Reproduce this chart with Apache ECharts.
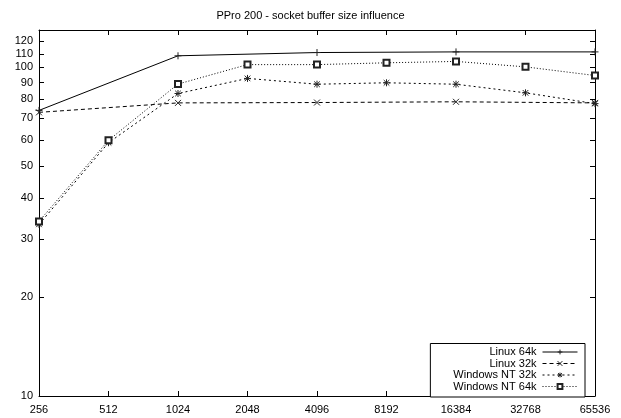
<!DOCTYPE html>
<html>
<head>
    <meta charset="utf-8">
    <script src="https://cdn.jsdelivr.net/npm/echarts@6/dist/echarts.min.js"></script>
    <style type="text/css">
        html, body { width: 100%; height: 100%; margin: 0; background: #fff; }
        #chart { width: 621px; height: 418px; }
    </style>
</head>
<body>
<div id="chart"></div>
<script type="text/javascript">
    // buffer sizes (bytes), evenly spaced on a log2 scale
    var sizes = ['256', '512', '1024', '2048', '4096', '8192', '16384', '32768', '65536'];
    var yTicks = [10, 20, 30, 40, 50, 60, 70, 80, 90, 100, 110, 120];

    var linux64 = [74, null, 108.5, null, 111, null, 111.5, null, 111.5];
    var linux32 = [73, null, 78, null, 78.2, null, 78.6, null, 78];
    var nt32 = [33.3, 59, 83.3, 92.6, 88.9, 89.8, 88.9, 83.7, 77.6];
    var nt64 = [34, 60, 89, 102, 102, 103.3, 104.3, 100.4, 94.5];

    var font = 'Liberation Sans, Arial, sans-serif';
    var plusPath = 'path://M0,5L10,5M5,0L5,10';
    var crossPath = 'path://M0,0L10,10M10,0L0,10';
    var starPath = 'path://M0,5L10,5M5,0L5,10M1,1L9,9M9,1L1,9';

    function mkSeries(name, data, symbol, size, dash) {
        return {
            name: name,
            type: 'line',
            data: data,
            connectNulls: true,
            symbol: symbol,
            symbolSize: size,
            showAllSymbol: true,
            lineStyle: { color: '#000', width: 1, type: dash },
            itemStyle: { color: '#222', borderColor: '#222', borderWidth: 1 },
            emphasis: { disabled: true },
            z: 3
        };
    }

    var myChart = echarts.init(document.getElementById('chart'));
    var tickStyle = { inside: true, length: 5, lineStyle: { color: '#000' } };
    myChart.setOption({
        animation: false,
        title: {
            text: 'PPro 200 - socket buffer size influence',
            left: 'center', top: 5,
            textStyle: { fontFamily: font, fontSize: 11, fontWeight: 'normal', color: '#000' }
        },
        legend: {
            orient: 'vertical',
            right: 36, bottom: 21,
            align: 'right',
            itemWidth: 35, itemHeight: 6, itemGap: 0.5,
            padding: [3, 7, 5, 23],
            borderColor: '#000', borderWidth: 1, borderRadius: 0,
            backgroundColor: '#fff',
            lineStyle: { width: 1 },
            itemStyle: { borderWidth: 1 },
            textStyle: { fontFamily: font, fontSize: 11, lineHeight: 10, color: '#000', padding: [0, 1, 0, 0] },
            data: ['Linux 64k', 'Linux 32k', 'Windows NT 32k', 'Windows NT 64k']
        },
        grid: { left: 39, right: 26, top: 30, bottom: 22 },
        xAxis: [{
            type: 'category', data: sizes, boundaryGap: false,
            axisLine: { lineStyle: { color: '#000' } },
            axisTick: tickStyle,
            axisLabel: { color: '#000', fontFamily: font, fontSize: 11, margin: 8 },
            splitLine: { show: false }
        }, {
            type: 'category', data: sizes, boundaryGap: false, position: 'top',
            axisLine: { lineStyle: { color: '#000' } },
            axisTick: tickStyle,
            axisLabel: { show: false }
        }],
        yAxis: [{
            type: 'log', logBase: 10, min: 10, max: 130,
            axisLine: { show: true, lineStyle: { color: '#000' } },
            axisTick: { show: true, inside: true, length: 5, lineStyle: { color: '#000' }, customValues: yTicks },
            axisLabel: { color: '#000', fontFamily: font, fontSize: 11, margin: 6, customValues: yTicks },
            splitLine: { show: false }
        }, {
            type: 'log', logBase: 10, min: 10, max: 130, position: 'right',
            axisLine: { show: true, lineStyle: { color: '#000' } },
            axisTick: { show: true, inside: true, length: 5, lineStyle: { color: '#000' }, customValues: yTicks },
            axisLabel: { show: false },
            splitLine: { show: false }
        }],
        series: [
            mkSeries('Linux 64k', linux64, plusPath, 7, 'solid'),
            mkSeries('Linux 32k', linux32, crossPath, 6, [4, 3]),
            mkSeries('Windows NT 32k', nt32, starPath, 7, [2, 3]),
            mkSeries('Windows NT 64k', nt64, 'emptyRect', 6, [1, 2])
        ]
    });
</script>
</body>
</html>
